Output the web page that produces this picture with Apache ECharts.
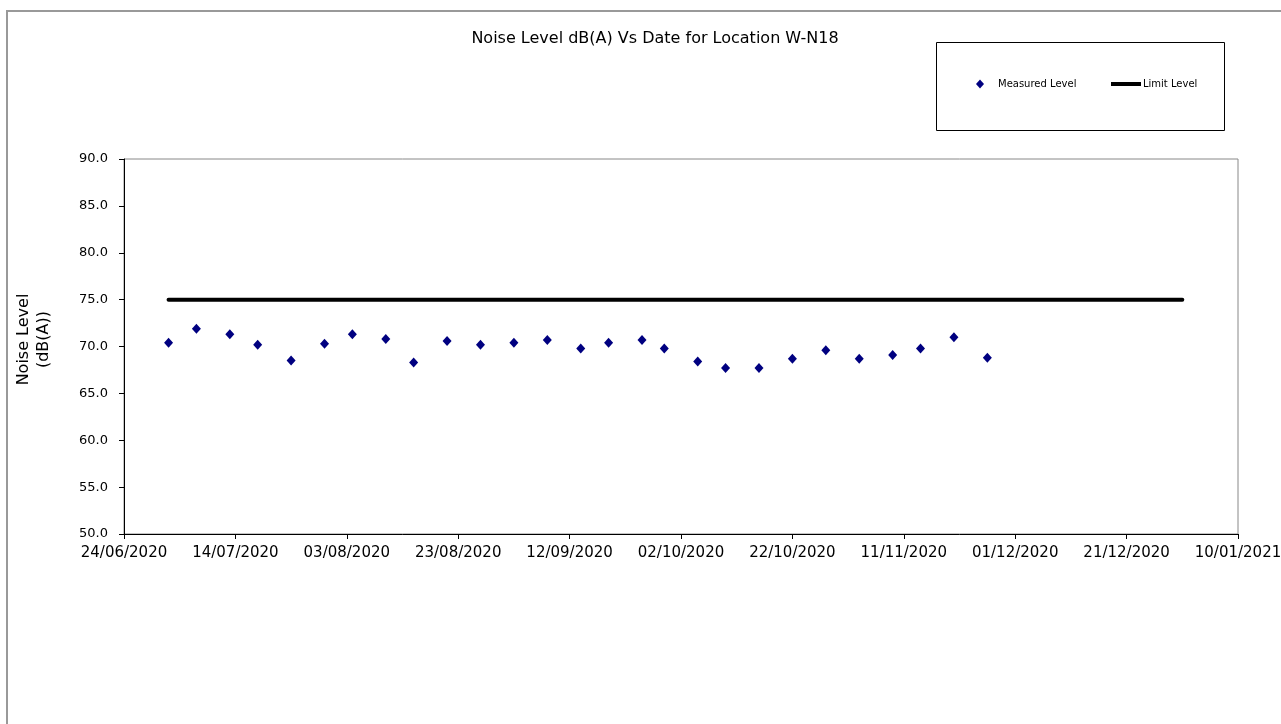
<!DOCTYPE html>
<html>
<head>
<meta charset="utf-8">
<title>Noise Level W-N18</title>
<script src="https://cdn.jsdelivr.net/npm/echarts@6/dist/echarts.min.js"></script>
<style>
  html, body {
    margin: 0;
    padding: 0;
    background: #fff;
  }
  #noise-chart {
    width: 1281px;
    height: 724px;
  }
</style>
</head>
<body>
<div id="noise-chart"></div>
<script>
// measurement dates (dd/mm/yyyy) and levels in dB(A)
const measuredDates = [
  '02/07/2020', '07/07/2020', '13/07/2020', '18/07/2020', '24/07/2020', '30/07/2020',
  '04/08/2020', '10/08/2020', '15/08/2020', '21/08/2020', '27/08/2020',
  '02/09/2020', '08/09/2020', '14/09/2020', '19/09/2020', '25/09/2020', '29/09/2020',
  '05/10/2020', '10/10/2020', '16/10/2020', '22/10/2020', '28/10/2020',
  '03/11/2020', '09/11/2020', '14/11/2020', '20/11/2020', '26/11/2020',
];
const measuredLevels = [
  70.4, 71.9, 71.3, 70.2, 68.5, 70.3,
  71.3, 70.8, 68.3, 70.6, 70.2,
  70.4, 70.7, 69.8, 70.4, 70.7, 69.8,
  68.4, 67.7, 67.7, 68.7, 69.6,
  68.7, 69.1, 69.8, 71.0, 68.8,
];

const limitDates = ['02/07/2020', '31/12/2020'];
const limitLevels = [75, 75];

// x axis: days counted from the first tick date
const axisStartDate = '24/06/2020';
const axisDays = 200;
const tickDays = 20;
const yTicks = [50, 90, 5]; // min, max, step

const DAY = 86400000;

function parseDate(str) {
  let p = str.split('/');
  return Date.UTC(+p[2], +p[1] - 1, +p[0]);
}

const t0 = parseDate(axisStartDate);

function dayOffset(str) {
  return Math.round((parseDate(str) - t0) / DAY);
}

function dayLabel(days) {
  let d = new Date(t0 + days * DAY);
  let dd = String(d.getUTCDate()).padStart(2, '0');
  let mm = String(d.getUTCMonth() + 1).padStart(2, '0');
  return dd + '/' + mm + '/' + d.getUTCFullYear();
}

const font = 'DejaVu Sans';

let option = {
  animation: false,
  backgroundColor: '#fff',
  title: {
    text: 'Noise Level dB(A) Vs Date for Location W-N18',
    left: 650,
    top: 26,
    textAlign: 'center',
    textStyle: {
      fontFamily: font,
      fontSize: 16,
      fontWeight: 'normal',
      color: '#000',
    },
  },
  graphic: [
    {
      type: 'rect',
      shape: { x: 7, y: 11, width: 1400, height: 800 },
      style: { fill: 'none', stroke: '#999', lineWidth: 2 },
      silent: true,
      z: -1,
    },
    {
      type: 'rect',
      shape: { x: 936.5, y: 42.5, width: 288, height: 88 },
      style: { fill: 'none', stroke: '#000', lineWidth: 1 },
      silent: true,
    },
  ],
  legend: [
    {
      data: [{ name: 'Measured Level', icon: 'diamond' }],
      left: 976,
      top: 79,
      itemWidth: 8,
      itemHeight: 9,
      padding: 0,
      textStyle: {
        fontFamily: font,
        fontSize: 10,
        color: '#000',
        padding: [0, 0, 0, 9],
      },
    },
    {
      data: [{ name: 'Limit Level', icon: 'rect' }],
      left: 1111,
      top: 79,
      itemWidth: 30,
      itemHeight: 4,
      itemGap: 0,
      padding: 0,
      textStyle: {
        fontFamily: font,
        fontSize: 10,
        color: '#000',
        padding: [0, 0, 0, -3],
      },
    },
  ],
  grid: {
    left: 124,
    right: 43,
    top: 159,
    bottom: 190,
    outerBoundsMode: 'none',
    containLabel: false,
    show: true,
    borderColor: '#888',
    borderWidth: 1,
  },
  xAxis: {
    type: 'value',
    min: 0,
    max: axisDays,
    interval: tickDays,
    splitLine: { show: false },
    axisLine: { lineStyle: { color: '#000', width: 1 } },
    axisTick: { show: true, inside: false, length: 5, lineStyle: { color: '#000' } },
    axisLabel: {
      margin: 12,
      fontFamily: font,
      fontSize: 15,
      color: '#000',
      formatter: dayLabel,
    },
  },
  yAxis: {
    type: 'value',
    min: yTicks[0],
    max: yTicks[1],
    interval: yTicks[2],
    name: 'Noise Level\n(dB(A))',
    nameLocation: 'middle',
    nameRotate: 90,
    nameGap: 70,
    nameTextStyle: {
      fontFamily: font,
      fontSize: 16,
      lineHeight: 20,
      color: '#000',
      padding: [0, 0, 0, 14],
    },
    splitLine: { show: false },
    axisLine: { show: true, lineStyle: { color: '#000', width: 1 } },
    axisTick: { show: true, inside: false, length: 5, lineStyle: { color: '#000' } },
    axisLabel: {
      margin: 16,
      fontFamily: font,
      fontSize: 13,
      color: '#000',
      formatter: v => v.toFixed(1),
    },
  },
  series: [
    {
      name: 'Measured Level',
      type: 'scatter',
      symbol: 'diamond',
      symbolSize: [9, 10],
      itemStyle: { color: '#000080', opacity: 1 },
      data: measuredDates.map((d, i) => [dayOffset(d), measuredLevels[i]]),
      z: 3,
    },
    {
      name: 'Limit Level',
      type: 'line',
      symbol: 'none',
      itemStyle: { color: '#000' },
      lineStyle: { color: '#000', width: 4, cap: 'round' },
      data: limitDates.map((d, i) => [dayOffset(d), limitLevels[i]]),
      z: 2,
    },
  ],
};

let chart = echarts.init(document.getElementById('noise-chart'));
chart.setOption(option);
</script>
</body>
</html>
